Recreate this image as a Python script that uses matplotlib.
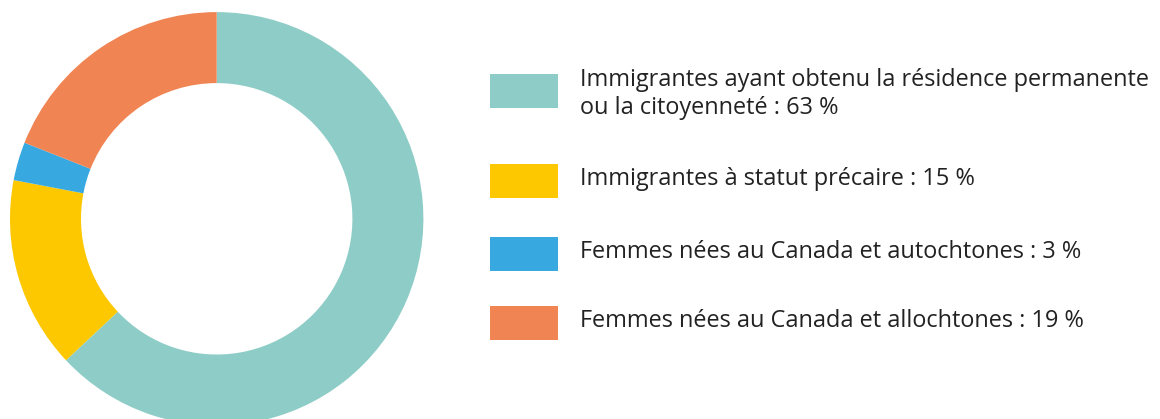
import matplotlib
matplotlib.use("Agg")
import matplotlib.pyplot as plt
from matplotlib.patches import Rectangle

# Données du graphique
categories = [
    "Immigrantes ayant obtenu la résidence permanente\nou la citoyenneté : 63 %",
    "Immigrantes à statut précaire : 15 %",
    "Femmes nées au Canada et autochtones : 3 %",
    "Femmes nées au Canada et allochtones : 19 %",
]
valeurs = [63, 15, 3, 19]
couleurs = ["#8ECDC7", "#FDC800", "#38A9E0", "#F08453"]

W, H = 1160, 419
fig = plt.figure(figsize=(W / 100, H / 100), dpi=100)

# anneau
cx, cy, R = 216.7, H - 218.8, 206.7
ax = fig.add_axes([(cx - R) / W, (cy - R) / H, 2 * R / W, 2 * R / H])
ax.pie(valeurs, colors=couleurs, startangle=90, counterclock=False, radius=1,
       wedgeprops=dict(width=71 / R, linewidth=0))
ax.set_xlim(-1, 1)
ax.set_ylim(-1, 1)
ax.set_aspect("equal")
ax.axis("off")

# légende manuelle (coordonnées en pixels, y vers le bas)
leg = fig.add_axes([0, 0, 1, 1])
leg.set_xlim(0, W)
leg.set_ylim(H, 0)
leg.axis("off")
patch_y = [74, 164, 237, 306]
base_y = [86, 185, 258, 327]
for c, lab, py, by in zip(couleurs, categories, patch_y, base_y):
    leg.add_patch(Rectangle((490, py), 68, 34, facecolor=c, edgecolor="none"))
    for i, ligne in enumerate(lab.split("\n")):
        leg.text(580, by + 28 * i, ligne, fontsize=16.9, family="Open Sans",
                 color="#222222", va="baseline", ha="left")

fig.savefig("out.png", dpi=100)
